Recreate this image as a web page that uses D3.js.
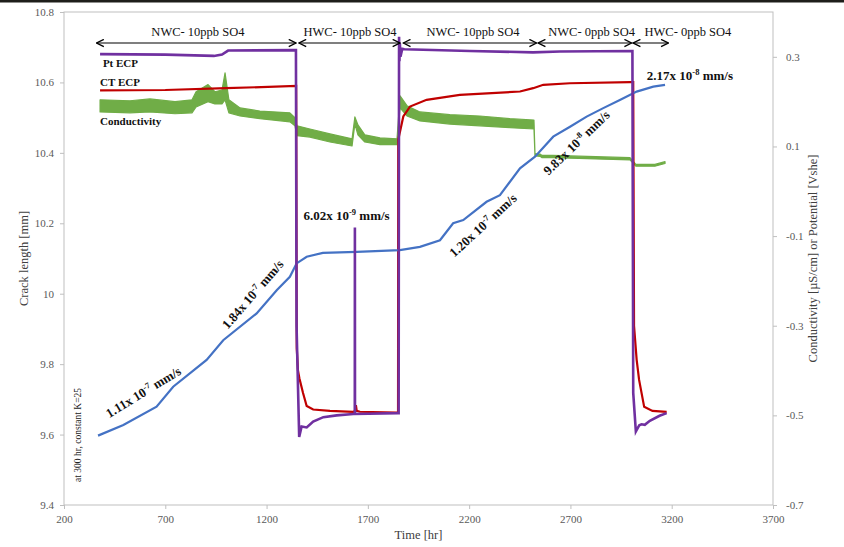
<!DOCTYPE html>
<html>
<head>
<meta charset="utf-8">
<script src="https://cdn.jsdelivr.net/npm/d3@7"></script>
<style>
  html, body { margin: 0; padding: 0; background: #fff; }
  svg { display: block; font-family: "Liberation Serif", "Times New Roman", serif; }
</style>
</head>
<body>
<div id="chart"></div>
<script>
// ---- data ----
const timeTicks = [200, 700, 1200, 1700, 2200, 2700, 3200, 3700];
const crackTicks = [9.4, 9.6, 9.8, 10, 10.2, 10.4, 10.6, 10.8];
const potTicks = [-0.7, -0.5, -0.3, -0.1, 0.1, 0.3];

// crack length [mm] (left axis)
const crackTime = [368, 493, 657, 739, 904, 986, 1151, 1250, 1315, 1348, 1398, 1478, 1645, 1858, 1957, 2056,
  2121, 2171, 2286, 2352, 2451, 2525, 2615, 2698, 2780, 2862, 2944, 3027, 3109, 3167];
const crackLen = [9.597, 9.627, 9.679, 9.736, 9.812, 9.868, 9.944, 10.010, 10.048, 10.086, 10.105, 10.116, 10.119, 10.124, 10.133, 10.152,
  10.200, 10.209, 10.261, 10.280, 10.356, 10.389, 10.446, 10.474, 10.503, 10.527, 10.550, 10.574, 10.588, 10.593];

// Pt ECP [Vshe] (right axis)
const ptTime = [378, 700, 940, 980, 1010, 1340, 1345, 1348, 1361, 1373, 1398, 1430, 1480, 1546, 1628, 1635.5, 1636, 1636.5,
  1850, 1852, 1854, 1856, 1858, 1861, 1870, 1880, 2204, 2515, 2648, 3006, 3010, 3023, 3040, 3051, 3067, 3092, 3140, 3175];
const ptEcp = [0.306, 0.305, 0.302, 0.305, 0.314, 0.315, 0.315, -0.30, -0.548, -0.525, -0.527, -0.514, -0.504, -0.500, -0.497, -0.497, -0.081, -0.497,
  -0.495, -0.495, 0.345, 0.29, 0.33, 0.30, 0.318, 0.317, 0.313, 0.310, 0.312, 0.313, -0.45, -0.536, -0.522, -0.520, -0.521, -0.512, -0.501, -0.495];

// CT ECP [Vshe] (right axis)
const ctTime = [378, 700, 1000, 1346, 1349, 1355, 1362, 1380, 1398, 1430, 1513, 1628, 1639, 1641, 1645, 1661, 1842,
  1849, 1850, 1875, 1908, 1990, 2154, 2451, 2516, 2566, 2697, 2994, 3010, 3014, 3027, 3039, 3064, 3105, 3175];
const ctEcp = [0.225, 0.226, 0.230, 0.235, -0.35, -0.400, -0.417, -0.450, -0.479, -0.487, -0.490, -0.492, -0.490, -0.477, -0.490, -0.492, -0.494,
  -0.494, 0.115, 0.167, 0.189, 0.204, 0.215, 0.2226, 0.230, 0.2375, 0.241, 0.2435, 0.2435, -0.30, -0.376, -0.421, -0.481, -0.490, -0.492];

// conductivity [uS/cm] (right axis) - noisy, so kept as the band it fills
const condTime = [378, 526, 624, 748, 832, 852, 911, 945, 980, 995, 1014, 1069, 1167, 1315, 1340, 1350, 1414, 1513, 1622, 1636, 1651,
  1685, 1760, 1844, 1859, 1893, 1957, 2105, 2253, 2401, 2520, 2525, 2550, 2560, 2614, 2994, 3023, 3117, 3167];
const condHi = [0.204, 0.202, 0.206, 0.200, 0.204, 0.222, 0.238, 0.222, 0.226, 0.264, 0.204, 0.186, 0.179, 0.175, 0.164, 0.146, 0.139, 0.128, 0.117, 0.166, 0.148,
  0.126, 0.119, 0.117, 0.213, 0.191, 0.177, 0.171, 0.168, 0.162, 0.159, 0.084, 0.083, 0.080, 0.080, 0.075, 0.060, 0.060, 0.066];
const condLo = [0.177, 0.175, 0.177, 0.173, 0.175, 0.188, 0.200, 0.195, 0.195, 0.204, 0.175, 0.168, 0.162, 0.155, 0.146, 0.124, 0.121, 0.110, 0.101, 0.150, 0.126,
  0.110, 0.104, 0.104, 0.186, 0.168, 0.157, 0.150, 0.146, 0.142, 0.139, 0.079, 0.078, 0.075, 0.075, 0.070, 0.056, 0.056, 0.062];

// test phases shown with arrows above the curves
const phaseNames = ['NWC- 10ppb SO4', 'HWC- 10ppb SO4', 'NWC- 10ppb SO4', 'NWC- 0ppb SO4', 'HWC- 0ppb SO4'];
const phaseStart = [361, 1360, 1875, 2541, 3010];
const phaseEnd = [1345, 1858, 2533, 3002, 3183];
const phaseLabelAt = [861, 1612, 2219, 2805, 3280];

// crack growth rates written along the curve
const rateMantissa = ['1.11', '1.84', '6.02', '1.20', '9.83', '2.17'];
const rateExp = ['-7', '-7', '-9', '-7', '-8', '-8'];
const rateTime = [603, 1148, 1595, 2283, 2745, 3290];
const rateCrack = [9.710, 9.990, 10.209, 10.185, 10.420, 10.606];
const rateAngle = [-31.5, -49, 0, -42.7, -44, 0];

const width = 844;
const height = 547;
const margin = {top: 12, right: 71, bottom: 42, left: 64};

const svg = d3.select('#chart')
  .append('svg')
  .attr('width', width)
  .attr('height', height);

svg.append('rect').attr('width', width).attr('height', height).attr('fill', '#fff');
// dark strip along the top edge of the original image
svg.append('rect').attr('width', width).attr('height', 2.5).attr('fill', '#1e1e1a');

const x = d3.scaleLinear().domain([200, 3700]).range([margin.left, width - margin.right]);
const yL = d3.scaleLinear().domain([9.4, 10.8]).range([height - margin.bottom, margin.top]);
const yR = d3.scaleLinear().domain([-0.7, 0.4]).range([height - margin.bottom, margin.top]);

// plot frame
svg.append('rect')
  .attr('x', x(200)).attr('y', yL(10.8))
  .attr('width', x(3700) - x(200)).attr('height', yL(9.4) - yL(10.8))
  .attr('fill', 'none').attr('stroke', '#bfbfbf').attr('stroke-width', 1);

function styleAxis(g) {
  g.select('.domain').remove();
  g.selectAll('.tick line').attr('stroke', '#bfbfbf');
  g.selectAll('.tick text').attr('fill', '#595959').style('font-size', '11px')
    .style('font-family', '"Liberation Serif", "Times New Roman", serif');
}

svg.append('g')
  .attr('transform', 'translate(0,' + (height - margin.bottom) + ')')
  .call(d3.axisBottom(x).tickValues(timeTicks).tickSize(4).tickPadding(6).tickFormat(d => String(d)))
  .call(styleAxis);

svg.append('g')
  .attr('transform', 'translate(' + margin.left + ',0)')
  .call(d3.axisLeft(yL).tickValues(crackTicks).tickSize(4).tickPadding(6).tickFormat(d => String(d)))
  .call(styleAxis);

svg.append('g')
  .attr('transform', 'translate(' + (width - margin.right) + ',0)')
  .call(d3.axisRight(yR).tickValues(potTicks).tickSize(4).tickPadding(9).tickFormat(d => String(d)))
  .call(styleAxis);

// axis titles
svg.append('text')
  .attr('x', (x(200) + x(3700)) / 2).attr('y', 539)
  .attr('text-anchor', 'middle').attr('fill', '#404040').style('font-size', '12.5px')
  .text('Time [hr]');

svg.append('text')
  .attr('transform', 'translate(28,' + ((margin.top + height - margin.bottom) / 2) + ') rotate(-90)')
  .attr('text-anchor', 'middle').attr('fill', '#404040').style('font-size', '12.5px')
  .text('Crack length [mm]');

svg.append('text')
  .attr('transform', 'translate(817,' + ((margin.top + height - margin.bottom) / 2) + ') rotate(-90)')
  .attr('text-anchor', 'middle').attr('fill', '#404040').style('font-size', '12.5px')
  .text('Conductivity [µS/cm] or Potential [Vshe]');

// ---- series ----
const condArea = d3.area()
  .x(i => x(condTime[i]))
  .y0(i => yR(condLo[i]))
  .y1(i => yR(condHi[i]));

svg.append('path')
  .datum(d3.range(condTime.length))
  .attr('d', condArea)
  .attr('fill', '#70ad47')
  .attr('stroke', '#70ad47')
  .attr('stroke-width', 1.2)
  .attr('stroke-linejoin', 'round');

const ctLine = d3.line().x(i => x(ctTime[i])).y(i => yR(ctEcp[i]));
svg.append('path')
  .datum(d3.range(ctTime.length))
  .attr('d', ctLine)
  .attr('fill', 'none').attr('stroke', '#c00000').attr('stroke-width', 2.2);

const crackLine = d3.line().x(i => x(crackTime[i])).y(i => yL(crackLen[i]));
svg.append('path')
  .datum(d3.range(crackTime.length))
  .attr('d', crackLine)
  .attr('fill', 'none').attr('stroke', '#4472c4').attr('stroke-width', 2.2);

const ptLine = d3.line().x(i => x(ptTime[i])).y(i => yR(ptEcp[i]));
svg.append('path')
  .datum(d3.range(ptTime.length))
  .attr('d', ptLine)
  .attr('fill', 'none').attr('stroke', '#7030a0').attr('stroke-width', 2.6);

// ---- phase arrows ----
const defs = svg.append('defs');
['start', 'end'].forEach(k => {
  defs.append('marker')
    .attr('id', 'arrow-' + k)
    .attr('viewBox', '0 0 10 10')
    .attr('refX', k === 'end' ? 9 : 1).attr('refY', 5)
    .attr('markerWidth', 9).attr('markerHeight', 9)
    .attr('markerUnits', 'userSpaceOnUse')
    .attr('orient', 'auto')
    .append('path')
    .attr('d', k === 'end' ? 'M1,1 L9,5 L1,9' : 'M9,1 L1,5 L9,9')
    .attr('fill', 'none').attr('stroke', '#000').attr('stroke-width', 1.5);
});

const arrowY = 43;
phaseNames.forEach((name, i) => {
  svg.append('line')
    .attr('x1', x(phaseStart[i])).attr('x2', x(phaseEnd[i]))
    .attr('y1', arrowY).attr('y2', arrowY)
    .attr('stroke', '#000').attr('stroke-width', 1.2)
    .attr('marker-start', 'url(#arrow-start)')
    .attr('marker-end', 'url(#arrow-end)');
  svg.append('text')
    .attr('x', x(phaseLabelAt[i])).attr('y', 36)
    .attr('text-anchor', 'middle').attr('fill', '#111').style('font-size', '12.5px')
    .text(name);
});

// ---- series labels ----
const seriesLabels = [
  {text: 'Pt ECP', t: 392, v: 0.277},
  {text: 'CT ECP', t: 378, v: 0.234},
  {text: 'Conductivity', t: 378, v: 0.147}
];
svg.selectAll('text.series')
  .data(seriesLabels)
  .enter()
  .append('text')
  .attr('class', 'series')
  .attr('x', d => x(d.t)).attr('y', d => yR(d.v))
  .attr('fill', '#111').style('font-size', '11px').style('font-weight', 'bold')
  .text(d => d.text);

// ---- rate labels ----
rateMantissa.forEach((m, i) => {
  const t = svg.append('text')
    .attr('transform', 'translate(' + x(rateTime[i]) + ',' + yL(rateCrack[i]) + ') rotate(' + rateAngle[i] + ')')
    .attr('text-anchor', 'middle').attr('fill', '#111')
    .style('font-size', '13px').style('font-weight', 'bold');
  t.append('tspan').text(m + 'x 10');
  t.append('tspan').attr('dy', -5).style('font-size', '8.5px').text(rateExp[i]);
  t.append('tspan').attr('dy', 5).text(' mm/s');
});

// note along the left edge
svg.append('text')
  .attr('transform', 'translate(' + x(284) + ',' + yL(9.599) + ') rotate(-90)')
  .attr('text-anchor', 'middle').attr('fill', '#222').style('font-size', '9.5px')
  .text('at 300 hr, constant K=25');
</script>
</body>
</html>
